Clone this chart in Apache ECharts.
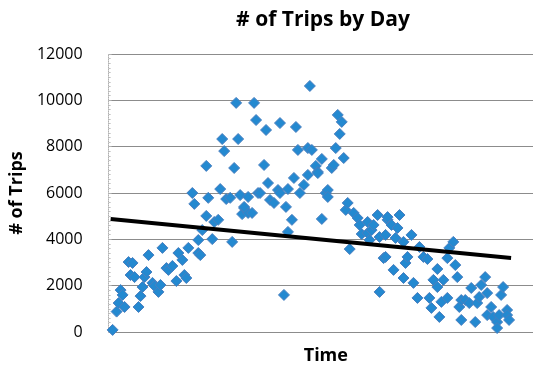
<!DOCTYPE html>
<html>
<head>
<meta charset="utf-8">
<script src="https://cdn.jsdelivr.net/npm/echarts@6/dist/echarts.min.js"></script>
<style>
  html, body { margin: 0; padding: 0; background: #fff; }
  #chart { width: 539px; height: 372px; }
</style>
</head>
<body>
<div id="chart"></div>
<script>
// day index (x) and trips per day (y)
const days = [
  2, 4, 5, 6, 7, 8, 10, 11, 12, 13, 15, 16, 17, 18, 19, 20, 22, 23, 25, 26,
  27, 29, 30, 32, 34, 35, 37, 38, 39, 40, 42, 43, 45, 45, 46, 47, 49, 49, 50, 52,
  53, 55, 56, 57, 58, 59, 61, 62, 63, 64, 65, 66, 67, 68, 70, 70, 72, 68, 73, 74,
  75, 76, 78, 79, 80, 81, 83, 85, 86, 86, 88, 89, 90, 90, 92, 93, 94, 95, 96, 98,
  100, 100, 101, 102, 104, 105, 105, 107, 107, 109, 110, 110, 112, 113, 114, 116, 117, 115, 118, 119,
  120, 121, 123, 125, 126, 127, 130, 130, 131, 132, 133, 135, 136, 136, 138, 139, 140, 140, 139, 142,
  143, 144, 145, 146, 148, 148, 149, 150, 152, 153, 155, 156, 158, 160, 161, 162, 163, 165, 165, 166,
  167, 168, 170, 170, 171, 173, 174, 175, 176, 177, 177, 179, 181, 182, 184, 185, 186, 187, 189, 190,
  190, 192, 193, 195, 195, 196, 197, 198, 200, 200, 201
];
const trips = [
  90, 880, 1250, 1810, 1600, 1080, 3020, 2460, 2980, 2370, 1080, 1550, 1940, 2370, 2590, 3320, 2120, 1990, 1730, 2030,
  3630, 2760, 2680, 2850, 2200, 3410, 3110, 2460, 2330, 3630, 6000, 5530, 3410, 3970, 3320, 4400, 5010, 7170, 5790, 4010,
  4750, 4840, 6170, 8330, 7810, 5740, 5790, 3890, 7080, 9890, 8330, 5910, 5090, 5350, 5830, 5140, 5140, 5400, 9890, 9150,
  6000, 6000, 7210, 8720, 6430, 5700, 5570, 6130, 6000, 9020, 1600, 5400, 6170, 4320, 4840, 6650, 8850, 7860, 6000, 6350,
  6780, 7940, 10620, 7860, 7170, 6910, 6860, 7470, 4880, 6000, 6130, 5830, 7080, 7210, 7940, 8550, 9070, 9370, 7510, 5270,
  5570, 3580, 5140, 4920, 4620, 4230, 4750, 4270, 3970, 4400, 4620, 5050, 4100, 1730, 3190, 4190, 4840, 4960, 3240, 4620,
  2680, 4060, 4490, 5050, 3890, 2330, 2980, 3240, 4190, 2120, 1470, 3670, 3240, 3150, 1470, 1040, 2250, 2720, 1940, 650,
  1300, 2250, 1470, 3190, 3630, 3890, 2890, 2370, 1080, 1380, 520, 1380, 1250, 1900, 430, 1250, 1510, 2030, 2370, 1680,
  730, 1080, 650, 430, 170, 730, 1600, 1940, 950, 730, 520
];
// linear trend line end points
const trendDays = [1, 202];
const trendTrips = [4880, 3190];

const yTicks = [0, 2000, 4000, 6000, 8000, 10000, 12000];

const chart = echarts.init(document.getElementById("chart"));

chart.setOption({
  animation: false,
  title: {
    text: "# of Trips by Day",
    left: 318,
    top: 5,
    textAlign: "center",
    textStyle: { fontFamily: "Open Sans", fontSize: 21, fontWeight: "bold", color: "#000" },
  },
  grid: { left: 108, right: 6, top: 54, bottom: 40 },
  xAxis: {
    type: "value",
    min: 0,
    max: 213,
    name: "Time",
    nameLocation: "middle",
    nameGap: 15,
    nameTextStyle: { fontFamily: "Open Sans", fontSize: 18, fontWeight: "bold", color: "#000", padding: [0, 0, 0, 10] },
    axisLine: { show: false },
    axisTick: { show: false },
    axisLabel: { show: false },
    splitLine: { show: false },
  },
  yAxis: {
    type: "value",
    min: yTicks[0],
    max: yTicks[yTicks.length - 1],
    interval: 2000,
    name: "# of Trips",
    nameLocation: "middle",
    nameGap: 80,
    nameRotate: 90,
    nameTextStyle: { fontFamily: "Open Sans", fontSize: 18, fontWeight: "bold", color: "#000" },
    axisLine: { show: true, lineStyle: { color: "#b0b0b0", type: "dotted" } },
    axisTick: { show: true, length: 3, inside: true, lineStyle: { color: "#b0b0b0" } },
    minorTick: { show: true, splitNumber: 10, length: 2, lineStyle: { color: "#c0c0c0" } },
    axisLabel: {
      fontFamily: "Open Sans", fontSize: 16, color: "#000", margin: 26,
      formatter: (v) => String(v),
    },
    splitLine: { show: true, lineStyle: { color: "#8c8c8c", width: 1 } },
  },
  series: [
    {
      type: "scatter",
      data: days.map((d, i) => [d, trips[i]]),
      symbol: "diamond",
      symbolSize: 11,
      itemStyle: { color: "#2489d0", borderColor: "#4a7fbf", borderWidth: 1, opacity: 1 },
      z: 2,
    },
    {
      type: "line",
      data: trendDays.map((d, i) => [d, trendTrips[i]]),
      symbol: "none",
      lineStyle: { color: "#000", width: 4 },
      z: 3,
    },
  ],
});
</script>
</body>
</html>
